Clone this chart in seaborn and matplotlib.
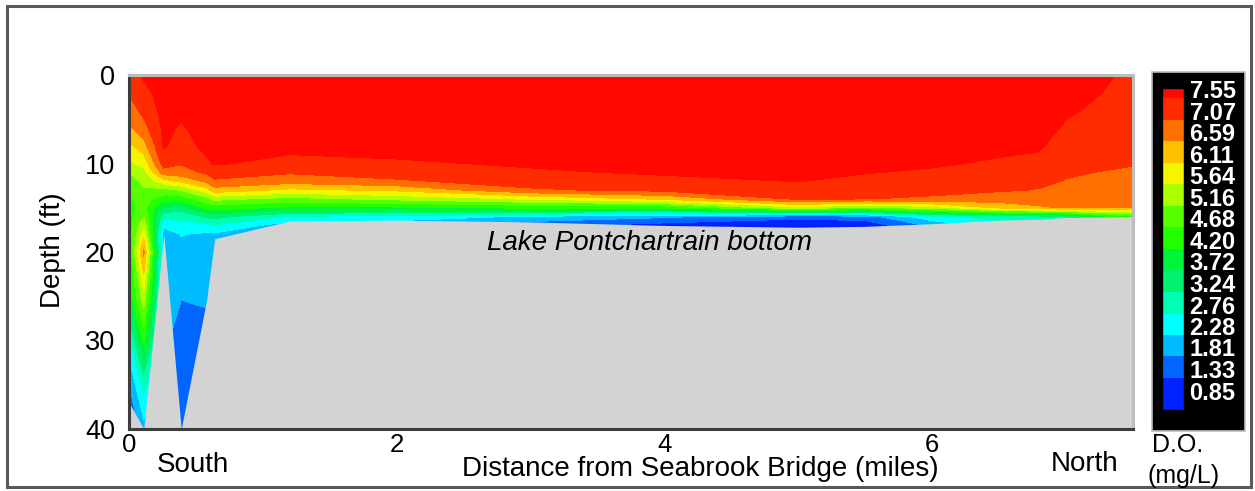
import numpy as np
import matplotlib
matplotlib.use("Agg")
import matplotlib.pyplot as plt
from matplotlib.patches import Rectangle
import seaborn as sns

# Survey stations along the transect (miles from Seabrook Bridge) and lake bottom depth (ft)
stations_mi = [0.0, 0.11, 0.26, 0.39, 0.58, 0.64, 1.2, 2.0, 3.0, 4.0, 5.0, 5.5, 6.0, 6.5, 6.8, 7.0, 7.5]
bottom_ft = [37.0, 40.0, 18.0, 40.0, 25.4, 18.5, 16.5, 16.4, 16.6, 17.0, 17.2, 17.1, 16.8, 16.4, 16.3, 16.1, 16.0]

# Sample depths of each vertical profile (ft)
depths_ft = [0, 2, 4, 6, 8, 10, 11, 12, 13, 14, 15, 16, 17, 18, 20, 25, 30, 35, 40]

# Dissolved oxygen profiles (mg/L), one per station
do_00 = [7.30, 7.10, 6.85, 6.50, 6.00, 5.55, 5.15, 4.85, 4.70, 4.60, 4.55, 4.50, 4.45, 4.40, 4.30, 3.90, 2.60, 1.80, 1.20]
do_01 = [7.60, 7.45, 7.20, 6.90, 6.40, 5.80, 5.50, 5.30, 5.10, 4.90, 4.80, 5.10, 5.50, 5.90, 6.70, 5.50, 4.30, 2.90, 2.10]
do_02 = [7.70, 7.70, 7.70, 7.65, 7.60, 7.30, 6.85, 5.90, 5.00, 4.40, 3.60, 2.90, 2.40, 2.00, 1.95, 1.90, 1.90, 1.90, 1.90]
do_03 = [7.70, 7.70, 7.65, 7.50, 7.35, 7.10, 6.90, 6.20, 5.20, 4.40, 3.50, 2.90, 2.60, 2.30, 2.15, 1.83, 1.60, 1.50, 1.45]
do_04 = [7.75, 7.75, 7.75, 7.72, 7.68, 7.45, 7.15, 6.70, 5.90, 5.00, 4.30, 3.30, 2.60, 2.20, 2.10, 1.85, 1.70, 1.70, 1.70]
do_05 = [7.75, 7.75, 7.75, 7.72, 7.68, 7.60, 7.30, 7.00, 6.40, 5.30, 4.40, 3.40, 2.70, 2.20, 2.00, 2.00, 2.00, 2.00, 2.00]
do_06 = [7.80, 7.80, 7.80, 7.75, 7.70, 7.40, 7.12, 6.80, 6.00, 5.00, 4.10, 2.70, 2.00, 2.00, 2.00, 2.00, 2.00, 2.00, 2.00]
do_07 = [7.80, 7.80, 7.80, 7.78, 7.70, 7.50, 7.30, 7.00, 6.20, 5.30, 4.10, 2.60, 1.90, 1.90, 1.90, 1.90, 1.90, 1.90, 1.90]
do_08 = [7.80, 7.80, 7.80, 7.80, 7.75, 7.60, 7.50, 7.30, 7.00, 5.70, 4.30, 2.20, 1.50, 1.50, 1.50, 1.50, 1.50, 1.50, 1.50]
do_09 = [7.80, 7.80, 7.80, 7.80, 7.78, 7.70, 7.60, 7.45, 7.20, 6.20, 4.30, 1.90, 1.10, 1.00, 1.00, 1.00, 1.00, 1.00, 1.00]
do_10 = [7.80, 7.80, 7.80, 7.80, 7.80, 7.75, 7.70, 7.56, 7.40, 7.15, 5.50, 1.50, 0.90, 0.90, 0.90, 0.90, 0.90, 0.90, 0.90]
do_11 = [7.80, 7.80, 7.80, 7.78, 7.72, 7.65, 7.57, 7.45, 7.30, 7.08, 5.00, 1.60, 1.00, 1.00, 1.00, 1.00, 1.00, 1.00, 1.00]
do_12 = [7.80, 7.80, 7.78, 7.75, 7.70, 7.60, 7.50, 7.35, 7.20, 7.00, 5.40, 2.60, 1.90, 1.90, 1.90, 1.90, 1.90, 1.90, 1.90]
do_13 = [7.80, 7.80, 7.78, 7.75, 7.65, 7.50, 7.40, 7.25, 7.12, 6.85, 6.20, 3.00, 2.50, 2.50, 2.50, 2.50, 2.50, 2.50, 2.50]
do_14 = [7.78, 7.76, 7.74, 7.70, 7.60, 7.45, 7.30, 7.15, 7.05, 6.90, 6.50, 3.00, 2.60, 2.60, 2.60, 2.60, 2.60, 2.60, 2.60]
do_15 = [7.80, 7.70, 7.60, 7.50, 7.35, 7.20, 7.12, 7.05, 6.95, 6.80, 6.65, 3.20, 2.80, 2.80, 2.80, 2.80, 2.80, 2.80, 2.80]
do_16 = [7.46, 7.42, 7.38, 7.32, 7.22, 7.10, 7.00, 6.95, 6.90, 6.80, 6.60, 4.50, 4.00, 4.00, 4.00, 4.00, 4.00, 4.00, 4.00]

# Colour scale labels (mg/L) and the band colours from low to high
scale_labels = [7.55, 7.07, 6.59, 6.11, 5.64, 5.16, 4.68, 4.20, 3.72, 3.24, 2.76, 2.28, 1.81, 1.33, 0.85]
band_colors = ["#0022ff", "#0066ff", "#00bbff", "#00ffff", "#00ffb4", "#00f070",
               "#00f538", "#22ff00", "#55ff00", "#aaff00", "#f5f500", "#ffc000",
               "#ff7000", "#ff2c00", "#ff0800"]

x_ticks = [0, 2, 4, 6]
y_ticks = [0, 10, 20, 30, 40]

sns.set_theme(style="white")
plt.rcParams["font.family"] = ["Liberation Sans", "DejaVu Sans"]
plt.rcParams["text.color"] = "black"
plt.rcParams["axes.labelcolor"] = "black"

W, H = 1255, 491
fig = plt.figure(figsize=(W / 100, H / 100), dpi=100)
fig.patch.set_facecolor("white")

def fx(px):
    return px / W

def fy(py):
    return (H - py) / H

# outer frame of the figure
fig.patches.append(Rectangle((fx(7), fy(487)), fx(1251) - fx(7), fy(6) - fy(487),
                             transform=fig.transFigure, fill=False,
                             edgecolor="#5a5a5a", linewidth=2.2, zorder=-2))

# black panel behind the colour scale
fig.patches.append(Rectangle((fx(1152), fy(431)), fx(1245) - fx(1152), fy(72) - fy(431),
                             transform=fig.transFigure, facecolor="black",
                             edgecolor="#bdbdbd", linewidth=1.2, zorder=-1))

ax = fig.add_axes([fx(129), fy(429), fx(1133) - fx(129), fy(75) - fy(429)])

profiles = [do_00, do_01, do_02, do_03, do_04, do_05, do_06, do_07, do_08,
            do_09, do_10, do_11, do_12, do_13, do_14, do_15, do_16]
Z = np.array(profiles, dtype=float).T

sorted_labels = sorted(scale_labels)
bounds = [0.0] + sorted_labels[1:] + [10.0]

cf = ax.contourf(stations_mi, depths_ft, Z, levels=bounds, colors=band_colors, zorder=1)
ax.fill_between(stations_mi, bottom_ft, 40, color="#d3d3d3", linewidth=0, zorder=3)

ax.set_xlim(0, 7.5)
ax.set_ylim(40, 0)
ax.set_xticks(x_ticks)
ax.set_yticks(y_ticks)
ax.tick_params(axis="both", length=0, colors="black")
ax.tick_params(axis="y", pad=10, labelsize=19.5)
ax.tick_params(axis="x", pad=3, labelsize=18.5)

for side in ["left", "bottom"]:
    ax.spines[side].set_color("#3c3c3c")
    ax.spines[side].set_linewidth(2.2)
for side in ["top", "right"]:
    ax.spines[side].set_color("#bdbdbd")
    ax.spines[side].set_linewidth(2.2)
for s in ax.spines.values():
    s.set_zorder(5)

ax.set_ylabel("Depth (ft)", fontsize=20)
ax.yaxis.set_label_coords(-0.0757, 0.506)
ax.yaxis.label.set_va("center")
ax.set_xlabel("Distance from Seabrook Bridge (miles)", fontsize=20)
ax.xaxis.set_label_coords(0.5687, -0.113)
ax.xaxis.label.set_va("center")

ax.text(3.89, 19.0, "Lake Pontchartrain bottom", fontsize=20, style="italic",
        ha="center", va="center", zorder=6)

fig.text(fx(193), fy(465), "South", fontsize=20, ha="center", va="center")
fig.text(fx(1085), fy(464), "North", fontsize=20, ha="center", va="center")
fig.text(fx(1178), fy(445), "D.O.", fontsize=18, ha="center", va="center")
fig.text(fx(1184), fy(476), "(mg/L)", fontsize=18, ha="center", va="center")

cax = fig.add_axes([fx(1162), fy(410), fx(1184) - fx(1162), fy(88) - fy(410)])
cax.set_zorder(3)
cb = fig.colorbar(cf, cax=cax, spacing="proportional", ticks=scale_labels)
cb.outline.set_edgecolor("black")
cb.outline.set_linewidth(1.0)
cax.set_ylim(0.62, 7.77)
cax.yaxis.set_ticks_position("right")
cax.tick_params(axis="y", length=0, pad=4, labelsize=17, labelcolor="white")
cax.set_yticks(scale_labels)
cax.set_yticklabels([f"{v:.2f}" for v in scale_labels])
for t in cax.get_yticklabels():
    t.set_verticalalignment("baseline")
    t.set_fontweight("bold")

fig.savefig("out.png", dpi=100, facecolor="white")
